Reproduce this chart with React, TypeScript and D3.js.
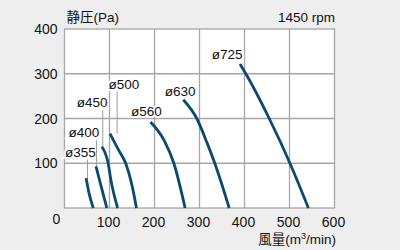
import React from "react";
import * as d3 from "d3";

const xTicks = [100, 200, 300, 400, 500, 600];
const yTicks = [100, 200, 300, 400];
const gridX = [100, 200, 300, 400, 500];
const gridY = [100, 200, 300];

const names = ["ø355", "ø400", "ø450", "ø500", "ø560", "ø630", "ø725"];
const curves: [number, number][][] = [
  [[48, 67], [55, 31], [64, 0]],
  [[70, 93], [82.6, 44], [94, 0]],
  [[83, 137], [97, 100], [103, 63], [118, 0]],
  [[101, 166], [120, 130], [136, 100], [149, 55], [160, 0]],
  [[191, 192], [222, 150], [243, 100], [268, 0]],
  [[264, 242], [294, 200], [317, 145], [334, 100], [366, 0]],
  [[390, 322], [403, 300], [455, 200], [501, 100], [542, 0]],
];
// label anchor (flow, pressure) of text start / baseline
const labelX = [1, 9, 27, 98, 148, 223, 327];
const labelY = [115, 158, 225, 267, 206, 250, 332];
// leader line x (flow), null = no leader
const leaderX: (number | null)[] = [51, 71, 85, 117, null, null, null];

const W = 400, H = 250;
const FONT = "'Liberation Sans', Arial, Helvetica, sans-serif";
const CJK = "'Liberation Sans', 'Noto Sans CJK JP', sans-serif";

export default function App() {
  const x = d3.scaleLinear().domain([0, 600]).range([64.5, 334.5]);
  const y = d3.scaleLinear().domain([0, 400]).range([208, 29]);
  const line = d3
    .line<[number, number]>()
    .x((d) => x(d[0]))
    .y((d) => y(d[1]))
    .curve(d3.curveMonotoneX);
  const grid = "#a6a6a6";
  const color = "#0b4a6e";
  return (
    <svg
      width={W}
      height={H}
      style={{ position: "absolute", left: 0, top: 0, background: "#eeeeee" }}
    >
      <rect x={0} y={0} width={W} height={H} fill="#eeeeee" />
      <rect
        x={x(0)}
        y={y(400)}
        width={x(600) - x(0)}
        height={y(0) - y(400)}
        fill="#ffffff"
      />
      {gridX.map((v) => (
        <line key={"gx" + v} x1={x(v)} x2={x(v)} y1={y(0)} y2={y(400)} stroke={grid} strokeWidth={1.3} />
      ))}
      {gridY.map((v) => (
        <line key={"gy" + v} x1={x(0)} x2={x(600)} y1={y(v)} y2={y(v)} stroke={grid} strokeWidth={1.3} />
      ))}
      <rect
        x={x(0)}
        y={y(400)}
        width={x(600) - x(0)}
        height={y(0) - y(400)}
        fill="none"
        stroke={grid}
        strokeWidth={1.3}
      />
      {names.map((n, i) => (
        <text
          key={"lh" + n}
          x={x(labelX[i])}
          y={y(labelY[i])}
          fontFamily={FONT}
          fontSize={13.5}
          fill="#ffffff"
          stroke="#ffffff"
          strokeWidth={4}
        >
          {n}
        </text>
      ))}
      {leaderX.map((lx, i) =>
        lx === null ? null : (
          <line
            key={"ld" + i}
            x1={x(lx)}
            x2={x(lx)}
            y1={y(labelY[i]) + 3}
            y2={y(curves[i][0][1])}
            stroke="#9a9a9a"
            strokeWidth={1}
          />
        )
      )}
      {curves.map((c, i) => (
        <path key={"c" + i} d={line(c) || ""} fill="none" stroke={color} strokeWidth={2.8} strokeLinecap="butt" />
      ))}
      {names.map((n, i) => (
        <text
          key={"l" + n}
          x={x(labelX[i])}
          y={y(labelY[i])}
          fontFamily={FONT}
          fontSize={13.5}
          fill="#111"
        >
          {n}
        </text>
      ))}
      {yTicks.map((v) => (
        <text key={"yt" + v} x={57.5} y={y(v) + 5} textAnchor="end" fontFamily={FONT} fontSize={14} fill="#111">
          {v}
        </text>
      ))}
      {xTicks.map((v) => (
        <text key={"xt" + v} x={x(v) - 1} y={227} textAnchor="middle" fontFamily={FONT} fontSize={14} fill="#111">
          {v}
        </text>
      ))}
      <text x={56.5} y={224} textAnchor="middle" fontFamily={FONT} fontSize={14} fill="#111">
        0
      </text>
      <text x={66.5} y={22} fontFamily={CJK} fontSize={13.5} fill="#111">
        静圧(Pa)
      </text>
      <text x={335} y={22} textAnchor="end" fontFamily={FONT} fontSize={13.5} fill="#111">
        1450 rpm
      </text>
      <text x={336} y={244} textAnchor="end" fontFamily={CJK} fontSize={13.5} fill="#111">
        風量(m<tspan fontSize={9} dy={-5}>3</tspan>
        <tspan dy={5}>/min)</tspan>
      </text>
    </svg>
  );
}
